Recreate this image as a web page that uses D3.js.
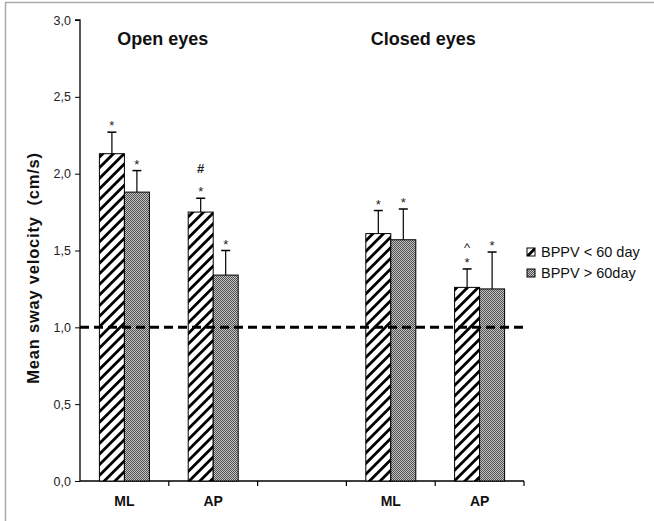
<!DOCTYPE html>
<html><head><meta charset="utf-8">
<script src="https://cdn.jsdelivr.net/npm/d3@7"></script>
<style>html,body{margin:0;padding:0;background:#fff;}svg{display:block;}</style>
</head><body>
<script>
// ---- data ----
const categories = ["ML", "AP", "", "ML", "AP"];
const conditions = ["Open eyes", "Closed eyes"];
const seriesNames = ["BPPV < 60 day", "BPPV > 60day"];
const under60 = [2.13, 1.75, null, 1.61, 1.26];
const over60 = [1.88, 1.34, null, 1.57, 1.25];
const under60Err = [0.14, 0.09, null, 0.15, 0.12];
const over60Err = [0.14, 0.16, null, 0.20, 0.24];
const under60Marks = [["*"], ["*", "#"], [], ["*"], ["*", "^"]];
const over60Marks = [["*"], ["*"], [], ["*"], ["*"]];
const yTicks = [0, 0.5, 1.0, 1.5, 2.0, 2.5, 3.0];
const referenceValue = 1.0;
const yLabel = "Mean sway velocity  (cm/s)";

const W = 654, H = 521;
const svg = d3.select("body").append("svg").attr("width", W).attr("height", H);
const defs = svg.append("defs");
const hatch = defs.append("pattern").attr("id", "hatch").attr("patternUnits", "userSpaceOnUse")
  .attr("width", 7.5).attr("height", 7.5).attr("patternTransform", "rotate(45)");
hatch.append("rect").attr("width", 7.5).attr("height", 7.5).attr("fill", "#fff");
hatch.append("rect").attr("x", 0).attr("y", 0).attr("width", 2.8).attr("height", 7.5).attr("fill", "#000");
const checker = defs.append("pattern").attr("id", "checker").attr("patternUnits", "userSpaceOnUse")
  .attr("width", 2).attr("height", 2);
checker.append("rect").attr("width", 2).attr("height", 2).attr("fill", "#c4c4c4");
checker.append("rect").attr("width", 1).attr("height", 1).attr("fill", "#505050");
checker.append("rect").attr("x", 1).attr("y", 1).attr("width", 1).attr("height", 1).attr("fill", "#505050");

// frame
svg.append("line").attr("x1", 5.5).attr("x2", 5.5).attr("y1", 2).attr("y2", H).attr("stroke", "#aaa").attr("stroke-width", 1.5);
svg.append("line").attr("x1", 5).attr("x2", W).attr("y1", 2.5).attr("y2", 2.5).attr("stroke", "#aaa").attr("stroke-width", 1.5);

const x0 = 80, x1 = 524, yTop = 20, yBot = 481;
const x = d3.scaleBand().domain(d3.range(categories.length)).range([x0, x1]).padding(0);
const y = d3.scaleLinear().domain([0, 3]).range([yBot, yTop]);
const barW = 25;

// y axis
const yAxis = d3.axisLeft(y).tickValues(yTicks).tickSize(5).tickPadding(4)
  .tickFormat(d => d3.format(".1f")(d).replace(".", ","));
const gy = svg.append("g").attr("transform", `translate(${x0},0)`).call(yAxis);
gy.select(".domain").attr("stroke", "#000").attr("stroke-width", 1.3).attr("d", `M-5,${yTop}H0V${yBot}`);
gy.selectAll(".tick line").attr("stroke", "#000");
gy.selectAll("text").attr("font-family", "Arial, 'Liberation Sans', sans-serif").attr("font-size", 12.5).attr("fill", "#222");

// x axis
const xAxis = d3.axisBottom(x).tickSize(0).tickFormat(i => categories[i]);
const gx = svg.append("g").attr("transform", `translate(0,${yBot})`).call(xAxis);
gx.select(".domain").attr("stroke", "#000").attr("stroke-width", 1.3).attr("d", `M${x0},0H${x1}`);
gx.selectAll("text").attr("dy", "0").attr("y", 25)
  .attr("font-family", "'Liberation Sans Narrow', 'Arial Narrow', sans-serif").attr("font-weight", "bold").attr("font-size", 14).attr("fill", "#111");
// separator ticks between categories
const seps = d3.range(categories.length + 1).map(i => x0 + i * x.bandwidth());
svg.append("g").selectAll("line").data(seps.slice(1)).join("line")
  .attr("x1", d => d).attr("x2", d => d).attr("y1", yBot).attr("y2", yBot + 5)
  .attr("stroke", "#000").attr("stroke-width", 1.2);

// bars
const series = [
  { vals: under60, err: under60Err, marks: under60Marks, fill: "url(#hatch)", off: -barW },
  { vals: over60, err: over60Err, marks: over60Marks, fill: "url(#checker)", off: 0 }
];
const cx = i => x(i) + x.bandwidth() / 2;
series.forEach(s => {
  const data = s.vals.map((v, i) => ({ v, e: s.err[i], m: s.marks[i], i })).filter(d => d.v != null);
  const g = svg.append("g");
  g.selectAll("line.err").data(data).join("line")
    .attr("x1", d => cx(d.i) + s.off + barW / 2).attr("x2", d => cx(d.i) + s.off + barW / 2)
    .attr("y1", d => y(d.v)).attr("y2", d => y(d.v + d.e)).attr("stroke", "#000").attr("stroke-width", 1.2);
  g.selectAll("line.cap").data(data).join("line")
    .attr("x1", d => cx(d.i) + s.off + barW / 2 - 4.5).attr("x2", d => cx(d.i) + s.off + barW / 2 + 4.5)
    .attr("y1", d => y(d.v + d.e)).attr("y2", d => y(d.v + d.e)).attr("stroke", "#000").attr("stroke-width", 1.5);
  g.selectAll("rect").data(data).join("rect")
    .attr("x", d => cx(d.i) + s.off).attr("width", barW)
    .attr("y", d => y(d.v)).attr("height", d => y(0) - y(d.v))
    .attr("fill", s.fill).attr("stroke", "#000").attr("stroke-width", 1);
  data.forEach(d => {
    d.m.forEach((t, k) => {
      svg.append("text").attr("x", cx(d.i) + s.off + barW / 2)
        .attr("y", y(d.v + d.e) - 6 - k * 19 + (t === "*" ? 4 : (t === "^" ? 8 : 0)))
        .attr("text-anchor", "middle").attr("font-family", "Arial, 'Liberation Sans', sans-serif")
        .attr("font-weight", t === "#" ? "bold" : "normal")
        .attr("font-size", 13).attr("fill", "#222").text(t);
    });
  });
});

// reference dashed line
svg.append("line").attr("x1", x0).attr("x2", x1).attr("y1", y(referenceValue)).attr("y2", y(referenceValue))
  .attr("stroke", "#000").attr("stroke-width", 3).attr("stroke-dasharray", "9,5");

// condition titles
const titleShift = [-6, -12];
[[0, 1], [3, 4]].forEach((pair, k) => {
  svg.append("text").attr("x", (x(pair[0]) + x(pair[1]) + x.bandwidth()) / 2 + titleShift[k]).attr("y", 45)
    .attr("text-anchor", "middle").attr("font-family", "Arial, 'Liberation Sans', sans-serif")
    .attr("font-weight", "bold").attr("font-size", 18).attr("fill", "#111").text(conditions[k]);
});

// y label
svg.append("text").attr("transform", `translate(39,268) rotate(-90)`)
  .attr("text-anchor", "middle").attr("font-family", "Arial, 'Liberation Sans', sans-serif")
  .attr("font-weight", "bold").attr("font-size", 16.5).attr("letter-spacing", 0.8).attr("fill", "#111")
  .attr("xml:space", "preserve").text(yLabel);

// legend
const lg = svg.append("g").attr("transform", "translate(527,0)");
seriesNames.forEach((n, k) => {
  const yy = 252 + k * 21;
  lg.append("rect").attr("x", 0).attr("y", yy - 4).attr("width", 8).attr("height", 8)
    .attr("fill", k === 0 ? "url(#hatch)" : "url(#checker)").attr("stroke", "#000").attr("stroke-width", 1);
  lg.append("text").attr("x", 14).attr("y", yy + 5).attr("font-family", "Arial, 'Liberation Sans', sans-serif")
    .attr("font-size", 14.5).attr("fill", "#111").text(n);
});
</script>
</body></html>
